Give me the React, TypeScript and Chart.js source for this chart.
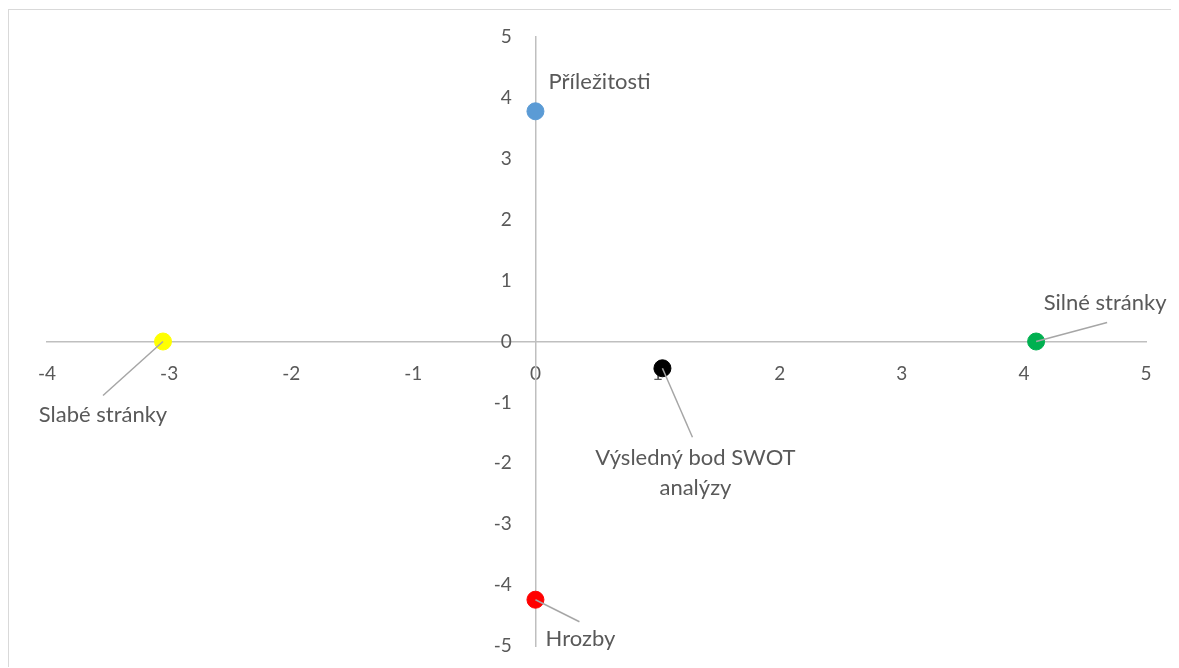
import React, { useEffect, useRef } from "react";
import { Chart, registerables } from "chart.js";

Chart.register(...registerables);

// Data
const pointNames = ["Příležitosti", "Silné stránky", "Slabé stránky", "Výsledný bod SWOT analýzy", "Hrozby"];
const xValues = [0, 4.1, -3.05, 1.04, 0];
const yValues = [3.78, 0, 0, -0.44, -4.24];
const pointColors = ["#5b9bd5", "#00b050", "#ffff00", "#000000", "#ff0000"];
const xTickRange = [-4, 5];
const yTickRange = [-5, 5];

// Label layout (pixel offsets from each point): text lines, text anchor, leader end
const labelLines = [["Příležitosti"], ["Silné stránky"], ["Slabé stránky"], ["Výsledný bod SWOT", "analýzy"], ["Hrozby"]];
const labelLayout = [
  { tx: 13, ty: -29, align: "left", leader: null },
  { tx: 69, ty: -39, align: "center", leader: [71, -19] },
  { tx: -60, ty: 73, align: "center", leader: [-60, 54] },
  { tx: 33, ty: 90, align: "center", leader: [30, 69] },
  { tx: 45, ty: 39, align: "center", leader: [44, 22] },
];

const FONT = "Lato, 'Liberation Sans', sans-serif";
const TEXT_COLOR = "#595959";
const AXIS_COLOR = "#bfbfbf";
const LABEL_SIZE = 22;
const TICK_SIZE = 19;

const labelPlugin = {
  id: "pointLabels",
  afterDraw(chart: any) {
    const ctx = chart.ctx;
    const meta = chart.getDatasetMeta(0);
    ctx.save();
    meta.data.forEach((el: any, i: number) => {
      const px = el.x;
      const py = el.y;
      const lay = labelLayout[i];
      if (lay.leader) {
        ctx.beginPath();
        ctx.strokeStyle = "#a6a6a6";
        ctx.lineWidth = 1.5;
        ctx.moveTo(px, py);
        ctx.lineTo(px + lay.leader[0], py + lay.leader[1]);
        ctx.stroke();
      }
      ctx.fillStyle = TEXT_COLOR;
      ctx.font = `${LABEL_SIZE}px ${FONT}`;
      ctx.textAlign = lay.align as CanvasTextAlign;
      ctx.textBaseline = "middle";
      labelLines[i].forEach((line, j) => {
        ctx.fillText(line, px + lay.tx, py + lay.ty + j * 30);
      });
    });
    ctx.restore();
  },
};

export default function App() {
  const canvasRef = useRef<HTMLCanvasElement | null>(null);

  useEffect(() => {
    if (!canvasRef.current) return;
    const chart = new Chart(canvasRef.current, {
      type: "scatter",
      data: {
        datasets: [
          {
            label: "SWOT",
            data: xValues.map((x, i) => ({ x, y: yValues[i] })),
            backgroundColor: pointColors,
            borderColor: pointColors,
            pointRadius: 8.5,
            pointHoverRadius: 8.5,
          },
        ],
      },
      options: {
        responsive: false,
        animation: false,
        layout: { padding: { left: 38, top: 27, right: 33, bottom: 22 } },
        plugins: {
          legend: { display: false },
          tooltip: { enabled: false },
        },
        scales: {
          x: {
            type: "linear",
            position: { y: 0 } as any,
            min: xTickRange[0],
            max: xTickRange[1],
            grid: { display: false, drawTicks: false },
            border: { color: AXIS_COLOR, width: 1.5 },
            ticks: {
              stepSize: 1,
              padding: 21,
              color: TEXT_COLOR,
              font: { family: FONT, size: TICK_SIZE },
              maxRotation: 0,
            },
          },
          y: {
            type: "linear",
            position: { x: 0 } as any,
            min: yTickRange[0],
            max: yTickRange[1],
            grid: { display: false, drawTicks: false },
            border: { color: AXIS_COLOR, width: 1.5 },
            ticks: { display: false, stepSize: 1 },
          },
          yLabels: {
            type: "linear",
            axis: "y",
            position: { x: -0.194 } as any,
            min: yTickRange[0],
            max: yTickRange[1],
            grid: { display: false, drawTicks: false },
            border: { display: false },
            ticks: {
              stepSize: 1,
              padding: 0,
              color: TEXT_COLOR,
              font: { family: FONT, size: TICK_SIZE },
            },
          },
        },
      },
      plugins: [labelPlugin],
    });
    return () => chart.destroy();
  }, []);

  return (
    <div
      style={{
        position: "relative",
        top: 1,
        width: 1170,
        height: 658,
        borderTop: "1px solid #d9d9d9",
        borderLeft: "1px solid #d9d9d9",
        background: "#fff",
      }}
    >
      <canvas ref={canvasRef} width={1170} height={658} style={{ display: "block", width: 1170, height: 658 }} />
    </div>
  );
}
